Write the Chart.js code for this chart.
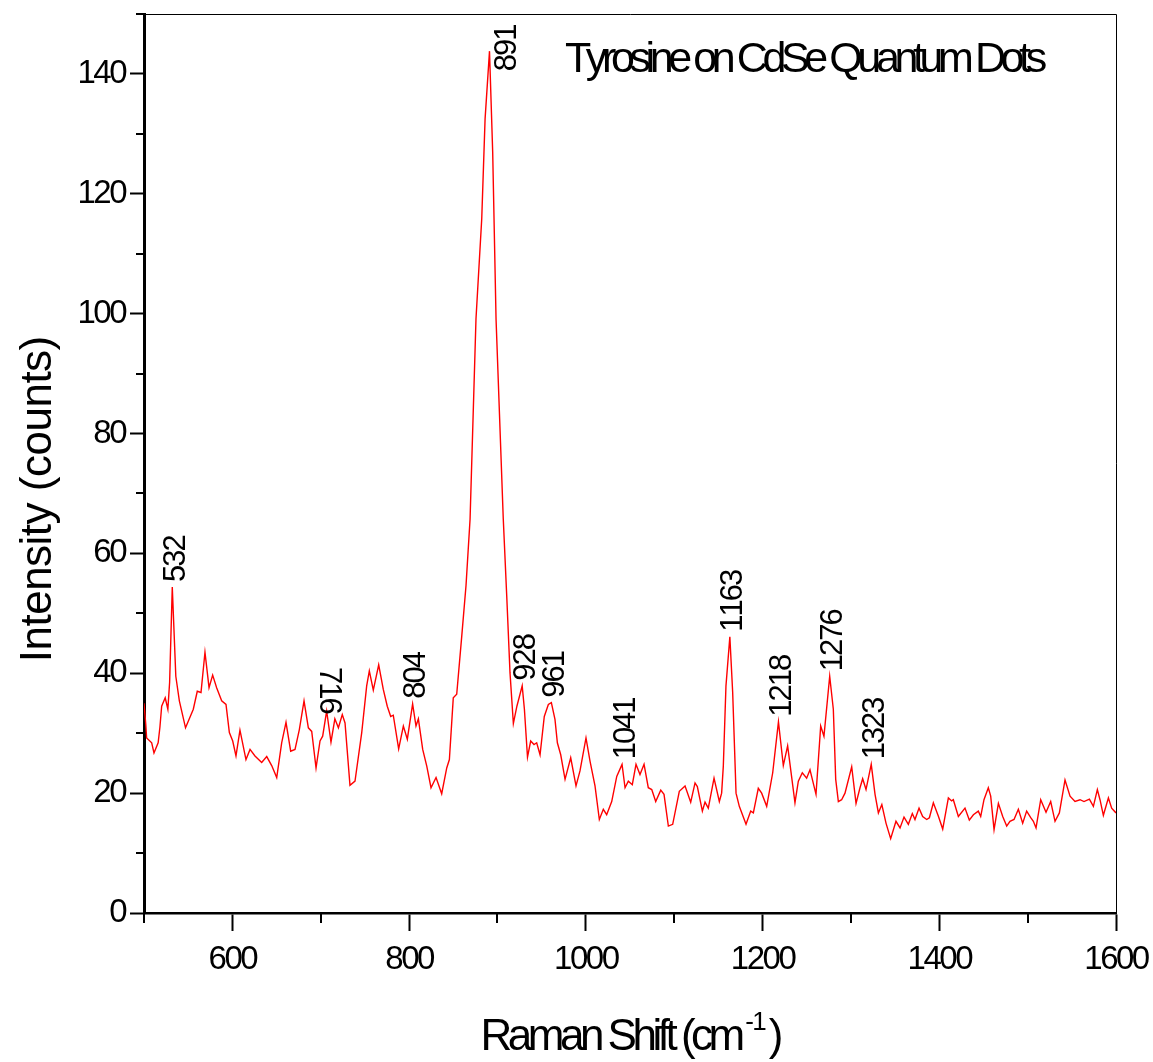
<!DOCTYPE html>
<html>
<head>
<meta charset="utf-8">
<title>Tyrosine on CdSe Quantum Dots</title>
<script src="https://cdn.jsdelivr.net/npm/chart.js@4.4.1/dist/chart.umd.min.js"></script>
<style>
  html, body { margin: 0; padding: 0; background: #fff; }
  canvas { display: block; }
</style>
</head>
<body>
<canvas id="ramanChart" width="1153" height="1062"></canvas>
<script>
// Raman shift (cm-1) and intensity (counts)
const shift = [
  500, 502, 503, 508.7, 511.3, 516, 518, 520, 524, 527, 529, 532, 536, 540, 547,
  555.8, 560.3, 564.5, 569, 573.6, 577.7, 582.2, 587.9, 592.8, 596.6, 600.4, 604.1, 608.6,
  615.4, 620, 625.6, 633.2, 638.9, 644.5, 650.2, 655.8, 660.7, 666, 670.9, 675.8, 681.1,
  686, 689.8, 694.7, 699.2, 702.2, 706.7, 711.6, 716, 720, 724.4, 727.5, 733.1, 738.8,
  746.4, 752, 755, 759.5, 765.6, 770.8, 775.3, 779.2, 782.1, 788.2, 793.5, 798, 804,
  807.8, 810.5, 815.4, 820, 824.8, 830.5, 836.9, 842.6, 845.6, 850, 853.9, 859.6, 864.4,
  869, 875.7, 882.2, 886, 891, 894.6, 898.4, 906.6, 910.5, 914.2, 918, 922, 928, 930.5,
  934, 937.6, 941.4, 944.4, 948.2, 953, 957.6, 961, 965.1, 967.8, 971.6, 976.5, 982.9,
  988.9, 993.4, 1000.2, 1004.8, 1010.4, 1015.3, 1019.8, 1023.6, 1029.3, 1035, 1041,
  1044.4, 1048.1, 1052.6, 1056.8, 1061.3, 1065.9, 1070.7, 1074.6, 1079.1, 1084.8, 1088.5,
  1093.4, 1098.3, 1105.8, 1112.3, 1118.7, 1123.6, 1126.2, 1131.9, 1134.9, 1138.6, 1145.1,
  1151.1, 1153.7, 1155.6, 1158.6, 1163, 1166.2, 1170, 1173.7, 1181.3, 1186.6, 1189.6,
  1195.2, 1199, 1204.7, 1211.5, 1218, 1223.5, 1228.4, 1236.7, 1240.5, 1245, 1249.9,
  1253.7, 1260.5, 1265.8, 1269.5, 1276, 1280.1, 1282.8, 1285.8, 1289.5, 1293.3, 1300.9,
  1305.8, 1310.3, 1313.3, 1317.1, 1323, 1327.3, 1331.1, 1335, 1339.7, 1345, 1351,
  1355.6, 1360.1, 1365, 1369.5, 1372.5, 1377.1, 1381.2, 1385.8, 1388.8, 1393.3, 1398.9,
  1403.9, 1410.3, 1414, 1415.9, 1421.6, 1429.1, 1434, 1438.6, 1444.2, 1446.9, 1450.6,
  1455.5, 1458.2, 1462, 1466.9, 1471.8, 1476.3, 1480, 1484.6, 1489.5, 1494.4, 1498.9,
  1503.5, 1506.5, 1509.5, 1514.8, 1520.8, 1526.1, 1531, 1535.9, 1542.3, 1548, 1553.6,
  1559.3, 1563.8, 1569.9, 1574.4, 1578.9, 1581.9, 1585.7, 1591.4, 1595.1, 1600
];
const intensity = [
  35.0, 31.5, 29.2, 28.4, 26.7, 28.4, 31.0, 34.5, 35.9, 34.0, 38.5, 54.4, 39.5, 35.4, 30.9,
  34.0, 37.0, 36.8, 43.5, 37.6, 39.7, 37.6, 35.4, 34.8, 30.1, 28.7, 26.2, 30.5,
  25.6, 27.3, 26.2, 25.1, 26.1, 24.6, 22.6, 28.4, 31.8, 27.0, 27.3, 30.6, 35.4,
  30.9, 30.3, 24.2, 28.7, 29.5, 33.7, 28.5, 32.4, 30.9, 33.1, 31.7, 21.3, 22.0,
  30.1, 37.9, 40.4, 37.2, 41.4, 37.3, 34.5, 32.8, 33.0, 27.4, 31.2, 29.0, 34.9,
  31.2, 32.4, 27.3, 24.5, 20.9, 22.6, 19.9, 24.2, 25.6, 35.9, 36.5, 46.2, 54.6,
  65.7, 99.1, 115.8, 132.5, 143.8, 127.0, 99.1, 65.7, 52.9, 40.1, 31.6, 34.5, 37.9, 34.0,
  26.0, 28.7, 28.1, 28.4, 26.4, 32.8, 34.8, 35.1, 32.3, 28.4, 26.4, 22.3, 25.9,
  21.2, 23.7, 29.2, 25.3, 21.2, 15.6, 17.3, 16.4, 18.6, 22.8, 24.8,
  20.9, 22.0, 21.4, 24.8, 23.1, 24.8, 20.9, 20.6, 18.6, 20.5, 19.8,
  14.5, 14.8, 20.3, 21.2, 18.5, 21.7, 21.1, 17.0, 18.5, 17.5, 22.5,
  18.6, 20.0, 24.5, 37.9, 46.1, 36.8, 20.0, 17.8, 14.8, 17.0, 16.7,
  20.8, 20.0, 17.8, 23.4, 31.9, 24.6, 27.9, 18.4, 22.0, 23.4, 22.5,
  23.9, 19.8, 31.2, 29.5, 39.5, 34.0, 22.3, 18.6, 18.9, 20.0, 24.4,
  18.3, 20.9, 22.4, 20.6, 24.8, 19.8, 16.7, 18.1, 15.0, 12.4, 15.3,
  14.2, 16.0, 14.8, 16.6, 15.6, 17.5, 16.1, 15.6, 15.9, 18.4, 16.2,
  14.0, 19.2, 18.7, 18.9, 16.1, 17.5, 15.5, 16.4, 17.0, 16.1, 18.9,
  20.9, 19.5, 13.9, 18.3, 16.1, 14.5, 15.3, 15.6, 17.3, 15.0, 17.0,
  15.9, 15.3, 14.2, 18.9, 16.8, 18.6, 15.3, 16.7, 22.2, 19.5, 18.6,
  18.9, 18.6, 19.0, 17.8, 20.6, 18.9, 16.3, 19.2, 17.5, 16.7
];

// labelled peak positions (cm-1)
const peakLabels = [532, 716, 804, 891, 928, 961, 1041, 1163, 1218, 1276, 1323];

const xTicks = [600, 800, 1000, 1200, 1400, 1600];
const xMinorTicks = [500, 700, 900, 1100, 1300, 1500];
const yTicks = [0, 20, 40, 60, 80, 100, 120, 140];
const yMinorTicks = [10, 30, 50, 70, 90, 110, 130, 150];

const FONT = '"Liberation Sans", Arial, Helvetica, sans-serif';

// draws a string glyph by glyph with a fixed extra spacing, returns its width
function spacedText(ctx, str, x, y, spacing, measureOnly) {
  let cx = x;
  for (const ch of str) {
    if (!measureOnly) ctx.fillText(ch, cx, y);
    cx += ctx.measureText(ch).width + spacing;
  }
  return cx - x - spacing;
}

function peakHeight(pos) {
  let best = 0;
  shift.forEach((s, i) => {
    if (Math.abs(s - pos) < 0.5 && intensity[i] > best) best = intensity[i];
  });
  return best;
}

const decorations = {
  id: 'decorations',
  beforeDraw(chart) {
    chart.ctx.letterSpacing = '-2.5px';
  },
  afterDraw(chart) {
    const { ctx, chartArea, scales: { x, y } } = chart;
    ctx.save();
    ctx.letterSpacing = '0px';

    // thin frame on top and right
    ctx.strokeStyle = '#000';
    ctx.lineWidth = 1;
    ctx.beginPath();
    ctx.moveTo(chartArea.left, chartArea.top + 0.5);
    ctx.lineTo(chartArea.right + 0.5, chartArea.top + 0.5);
    ctx.lineTo(chartArea.right + 0.5, chartArea.bottom);
    ctx.stroke();

    // minor ticks
    ctx.lineWidth = 2;
    ctx.beginPath();
    xMinorTicks.forEach(v => {
      const px = Math.round(x.getPixelForValue(v));
      ctx.moveTo(px, chartArea.bottom);
      ctx.lineTo(px, chartArea.bottom + 10);
    });
    yMinorTicks.forEach(v => {
      const py = Math.round(y.getPixelForValue(v));
      ctx.moveTo(chartArea.left, py);
      ctx.lineTo(chartArea.left - 8, py);
    });
    ctx.stroke();

    ctx.fillStyle = '#000';

    // peak labels
    ctx.font = '31px ' + FONT;
    ctx.textBaseline = 'middle';
    ctx.textAlign = 'left';
    peakLabels.forEach(pos => {
      const px = x.getPixelForValue(pos);
      const py = y.getPixelForValue(peakHeight(pos));
      const txt = String(pos);
      const w = spacedText(ctx, txt, 0, 0, -2, true);
      ctx.save();
      if (pos === 716) {
        ctx.translate(px - 6, py - 4);
        ctx.rotate(Math.PI / 2);
        spacedText(ctx, txt, -w, 0, -2);
      } else if (pos === 891) {
        ctx.translate(px + 18, py + 20);
        ctx.rotate(-Math.PI / 2);
        spacedText(ctx, txt, 0, 0, -2);
      } else {
        ctx.translate(px + 4, py - 5);
        ctx.rotate(-Math.PI / 2);
        spacedText(ctx, txt, 0, 0, -2);
      }
      ctx.restore();
    });

    // chart title
    ctx.textBaseline = 'alphabetic';
    ctx.font = '43px ' + FONT;
    spacedText(ctx, 'Tyrosine on CdSe Quantum Dots', 565, 72, -5.4);

    // y axis title
    ctx.save();
    ctx.font = '44px ' + FONT;
    ctx.translate(51, 499);
    ctx.rotate(-Math.PI / 2);
    const yt = 'Intensity (counts)';
    const ytw = spacedText(ctx, yt, 0, 0, -0.5, true);
    spacedText(ctx, yt, -ytw / 2, 0, -0.5);
    ctx.restore();

    // x axis title with superscript
    const base = 1050;
    ctx.font = '44px ' + FONT;
    const w1 = spacedText(ctx, 'Raman Shift (cm', 0, 0, -4.5, true);
    const w3 = spacedText(ctx, ')', 0, 0, -4.5, true);
    ctx.font = '26px ' + FONT;
    const w2 = spacedText(ctx, '-1', 0, 0, -1.5, true);
    let sx = 632 - (w1 + w2 + w3 + 2) / 2;
    ctx.font = '44px ' + FONT;
    spacedText(ctx, 'Raman Shift (cm', sx, base, -4.5);
    sx += w1;
    ctx.font = '26px ' + FONT;
    spacedText(ctx, '-1', sx, base - 20, -1.5);
    sx += w2 + 2;
    ctx.font = '44px ' + FONT;
    spacedText(ctx, ')', sx, base, -4.5);

    ctx.restore();
  }
};

const ctx = document.getElementById('ramanChart').getContext('2d');
new Chart(ctx, {
  type: 'line',
  data: {
    datasets: [{
      data: shift.map((s, i) => ({ x: s, y: intensity[i] })),
      borderColor: '#ff0000',
      borderWidth: 1.4,
      pointRadius: 0,
      fill: false,
      tension: 0
    }]
  },
  options: {
    responsive: false,
    animation: false,
    devicePixelRatio: 1,
    layout: { padding: { top: 14, right: 37, left: 0, bottom: 0 } },
    plugins: {
      legend: { display: false },
      tooltip: { enabled: false }
    },
    scales: {
      x: {
        type: 'linear',
        min: 500,
        max: 1600,
        afterBuildTicks: scale => { scale.ticks = xTicks.map(v => ({ value: v })); },
        afterFit: scale => {
          scale.height = 149;
          scale.paddingLeft = 0;
          scale.paddingRight = 0;
        },
        border: { display: true, color: '#000', width: 2.5 },
        grid: { drawOnChartArea: false, drawTicks: true, tickLength: 18, tickWidth: 2, tickColor: '#000' },
        ticks: {
          color: '#000', padding: 9, maxRotation: 0,
          font: { family: FONT, size: 33 },
          callback: v => String(v)
        }
      },
      y: {
        type: 'linear',
        min: 0,
        max: 150,
        afterBuildTicks: scale => { scale.ticks = yTicks.map(v => ({ value: v })); },
        afterFit: scale => {
          scale.width = 144;
          scale.paddingTop = 0;
          scale.paddingBottom = 0;
        },
        border: { display: true, color: '#000', width: 3 },
        grid: { drawOnChartArea: false, drawTicks: true, tickLength: 14, tickWidth: 2, tickColor: '#000' },
        ticks: {
          color: '#000', padding: 5,
          font: { family: FONT, size: 33 },
          callback: v => String(v)
        }
      }
    }
  },
  plugins: [decorations]
});
</script>
</body>
</html>
